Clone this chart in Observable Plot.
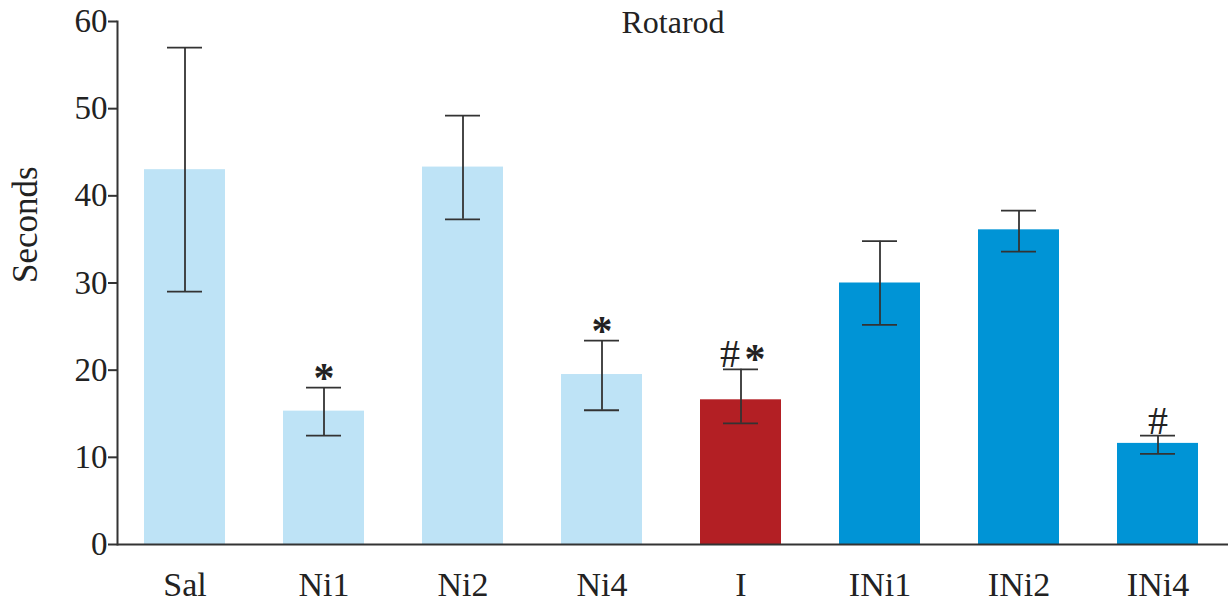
<!DOCTYPE html>
<html>
<head>
<meta charset="utf-8">
<script src="https://cdn.jsdelivr.net/npm/d3@7"></script>
<script src="https://cdn.jsdelivr.net/npm/@observablehq/plot@0.6"></script>
<style>
  html, body { margin: 0; padding: 0; background: #fff; }
  #chart svg { display: block; }
</style>
</head>
<body>
<div id="chart"></div>
<script>
const categories = ["Sal", "Ni1", "Ni2", "Ni4", "I", "INi1", "INi2", "INi4"];
const groups     = ["Ni", "Ni", "Ni", "Ni", "I", "INi", "INi", "INi"];
const means      = [43.0, 15.3, 43.3, 19.5, 16.6, 30.0, 36.1, 11.6];
const errLow     = [29.0, 12.5, 37.3, 15.4, 13.9, 25.2, 33.6, 10.4];
const errHigh    = [57.0, 18.0, 49.2, 23.4, 20.1, 34.8, 38.3, 12.5];
const sigLabels  = ["", "*", "", "*", "#*", "", "", "#"];
const yTicks     = [0, 10, 20, 30, 40, 50, 60];
const groupNames = ["Ni", "I", "INi"];
const groupColors = ["#bee3f6", "#b31f24", "#0094d6"];

const data = categories.map((c, i) => ({
  cat: c, group: groups[i], mean: means[i], lo: errLow[i], hi: errHigh[i], sig: sigLabels[i]
}));

const font = "'Liberation Serif', 'Times New Roman', serif";
const starOnly = data.filter(d => d.sig === "*");
const hashOnly = data.filter(d => d.sig === "#");
const both = data.filter(d => d.sig === "#*");

const chart = Plot.plot({
  width: 1228,
  height: 604,
  marginLeft: 117,
  marginRight: 0,
  marginTop: 21,
  marginBottom: 60,
  style: { fontFamily: font, fontSize: "33px", color: "#222", background: "#fff" },
  x: { domain: categories, range: [113, 1228], paddingInner: 0.42, paddingOuter: 0.21, label: null },
  y: { domain: [0, 60], label: null },
  color: { domain: groupNames, range: groupColors },
  marks: [
    Plot.barY(data, { x: "cat", y: "mean", fill: "group" }),
    Plot.ruleX(data, { x: "cat", y1: "lo", y2: "hi", stroke: "#333", strokeWidth: 1.8 }),
    Plot.tickY(data, { x: "cat", y: "lo", stroke: "#333", strokeWidth: 1.8, insetLeft: 23, insetRight: 23 }),
    Plot.tickY(data, { x: "cat", y: "hi", stroke: "#333", strokeWidth: 1.8, insetLeft: 23, insetRight: 23 }),
    // significance markers
    Plot.text(starOnly, { x: "cat", y: "hi", text: () => "*", lineAnchor: "bottom", dy: 4,
      fontSize: 42, fontWeight: "bold", fill: "#222", fontFamily: font }),
    Plot.text(hashOnly, { x: "cat", y: "hi", text: () => "#", lineAnchor: "bottom", dy: -2,
      fontSize: 40, fill: "#222", fontFamily: font }),
    Plot.text(both, { x: "cat", y: "hi", text: () => "#", lineAnchor: "bottom", dx: -11, dy: -2,
      fontSize: 40, fill: "#222", fontFamily: font }),
    Plot.text(both, { x: "cat", y: "hi", text: () => "*", lineAnchor: "bottom", dx: 14, dy: 4,
      fontSize: 42, fontWeight: "bold", fill: "#222", fontFamily: font }),
    Plot.axisY({ ticks: yTicks, tickSize: 9, tickPadding: 1, fontSize: 33, stroke: "#333", strokeWidth: 2, label: null }),
    Plot.frame({ anchor: "left", stroke: "#333", strokeWidth: 2 }),
    Plot.ruleY([0], { stroke: "#333", strokeWidth: 2 }),
    Plot.axisX({ tickSize: 0, tickPadding: 27, fontSize: 34, label: null }),
    Plot.text(["Rotarod"], { frameAnchor: "top", lineAnchor: "middle", dy: 1, fontSize: 32, fill: "#222", fontFamily: font }),
    Plot.text(["Seconds"], { frameAnchor: "left", rotate: -90, dx: -92, fontSize: 35, fill: "#222", fontFamily: font })
  ]
});
document.getElementById("chart").appendChild(chart);
</script>
</body>
</html>
